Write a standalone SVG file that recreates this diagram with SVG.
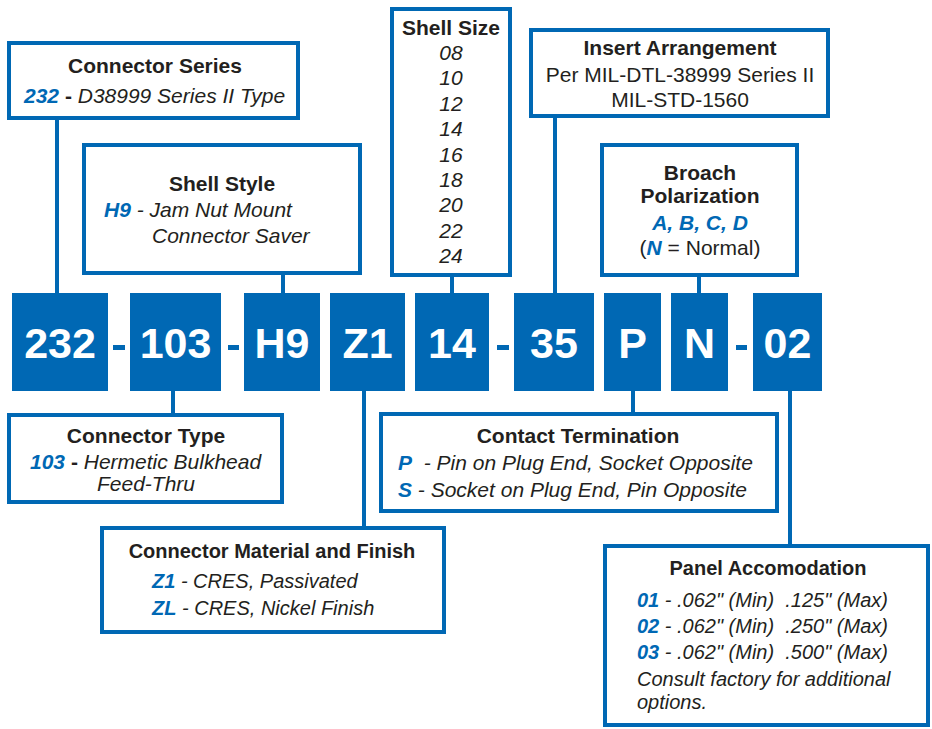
<svg xmlns="http://www.w3.org/2000/svg" width="932" height="729" viewBox="0 0 932 729">
<style>
.box{fill:#fff;stroke:#0068b4;stroke-width:4}
.code{fill:#0068b4}
.dash{fill:#0068b4}
.ct{font-family:"Liberation Sans",Arial,sans-serif;font-weight:bold;font-size:43px;fill:#fff;text-anchor:middle}
.t{font-family:"Liberation Sans",Arial,sans-serif;font-size:21px;fill:#231f20}
.s{font-size:20px}
.h{font-weight:bold;text-anchor:middle}
.i{font-style:italic}
.b{fill:#0068b4;font-weight:bold;font-style:italic}
.k{font-weight:bold}
.c{text-anchor:middle}
#connectors line{stroke:#0068b4;stroke-width:4}
</style>
<rect width="932" height="729" fill="#fff"/>
<g id="connectors">
<line x1="57" y1="118" x2="57" y2="294"/>
<line x1="283" y1="275" x2="283" y2="294"/>
<line x1="452" y1="275" x2="452" y2="294"/>
<line x1="555" y1="116" x2="555" y2="294"/>
<line x1="699" y1="275" x2="699" y2="294"/>
<line x1="173" y1="390" x2="173" y2="415"/>
<line x1="364" y1="390" x2="364" y2="528"/>
<line x1="633" y1="390" x2="633" y2="414"/>
<line x1="790" y1="390" x2="790" y2="546"/>
</g>
<g id="codes">
<g id="code-232"><rect class="code" x="12" y="293" width="96" height="98"/><text class="ct" x="60" y="358">232</text></g>
<rect class="dash" x="113" y="345" width="12" height="5"/>
<g id="code-103"><rect class="code" x="130" y="293" width="91" height="98"/><text class="ct" x="175.5" y="358">103</text></g>
<rect class="dash" x="228" y="345" width="11" height="5"/>
<g id="code-H9"><rect class="code" x="244" y="293" width="76" height="98"/><text class="ct" x="282" y="358">H9</text></g>
<g id="code-Z1"><rect class="code" x="330" y="293" width="75" height="98"/><text class="ct" x="367.5" y="358">Z1</text></g>
<g id="code-14"><rect class="code" x="415" y="293" width="74" height="98"/><text class="ct" x="452" y="358">14</text></g>
<rect class="dash" x="497" y="345" width="12" height="5"/>
<g id="code-35"><rect class="code" x="514" y="293" width="80" height="98"/><text class="ct" x="554" y="358">35</text></g>
<g id="code-P"><rect class="code" x="604" y="293" width="57" height="98"/><text class="ct" x="632.5" y="358">P</text></g>
<g id="code-N"><rect class="code" x="671" y="293" width="57" height="98"/><text class="ct" x="699.5" y="358">N</text></g>
<rect class="dash" x="736" y="345" width="11" height="5"/>
<g id="code-02"><rect class="code" x="753" y="293" width="69" height="98"/><text class="ct" x="787.5" y="358">02</text></g>
</g>
<g id="connector-series">
<rect class="box" x="9" y="43" width="289" height="75"/>
<text class="t h" x="155" y="73">Connector Series</text>
<text class="t" x="24" y="103"><tspan class="b">232</tspan><tspan class="k"> - </tspan><tspan class="i">D38999 Series II Type</tspan></text>
</g>
<g id="shell-style">
<rect class="box" x="84" y="145" width="276" height="128"/>
<text class="t h" x="222" y="191">Shell Style</text>
<text class="t" x="104" y="217"><tspan class="b">H9</tspan><tspan class="i"> - Jam Nut Mount</tspan></text>
<text class="t i" x="152" y="243">Connector Saver</text>
</g>
<g id="shell-size">
<rect class="box" x="392" y="9" width="118" height="266"/>
<text class="t h" x="451" y="35">Shell Size</text>
<text class="t i c" x="451" y="60">08</text>
<text class="t i c" x="451" y="85.4">10</text>
<text class="t i c" x="451" y="110.8">12</text>
<text class="t i c" x="451" y="136.2">14</text>
<text class="t i c" x="451" y="161.6">16</text>
<text class="t i c" x="451" y="187">18</text>
<text class="t i c" x="451" y="212.4">20</text>
<text class="t i c" x="451" y="237.8">22</text>
<text class="t i c" x="451" y="263.2">24</text>
</g>
<g id="insert-arrangement">
<rect class="box" x="531" y="30" width="297" height="86"/>
<text class="t h" x="680" y="55">Insert Arrangement</text>
<text class="t c" x="680" y="82">Per MIL-DTL-38999 Series II</text>
<text class="t c" x="680" y="107">MIL-STD-1560</text>
</g>
<g id="broach-polarization">
<rect class="box" x="602" y="145" width="195" height="130"/>
<text class="t h" x="700" y="180">Broach</text>
<text class="t h" x="700" y="203">Polarization</text>
<text class="t c" x="700" y="230"><tspan class="b">A, B, C, D</tspan></text>
<text class="t c" x="700" y="255">(<tspan class="b">N</tspan> = Normal)</text>
</g>
<g id="connector-type">
<rect class="box" x="9" y="415" width="273" height="87"/>
<text class="t h" x="146" y="443">Connector Type</text>
<text class="t" x="30" y="469" font-size="20.5"><tspan class="b">103</tspan><tspan class="k"> - </tspan><tspan class="i">Hermetic Bulkhead</tspan></text>
<text class="t i c" x="146" y="491" font-size="20.5">Feed-Thru</text>
</g>
<g id="contact-termination">
<rect class="box" x="381" y="414" width="396" height="97"/>
<text class="t h" x="578" y="443">Contact Termination</text>
<text class="t" x="398" y="470" xml:space="preserve"><tspan class="b">P</tspan><tspan class="i">  - Pin on Plug End, Socket Opposite</tspan></text>
<text class="t" x="398" y="497"><tspan class="b">S</tspan><tspan class="i"> - Socket on Plug End, Pin Opposite</tspan></text>
</g>
<g id="material-finish">
<rect class="box" x="102" y="528" width="342" height="104"/>
<text class="t s h" x="272" y="558">Connector Material and Finish</text>
<text class="t s" x="152" y="588"><tspan class="b">Z1</tspan><tspan class="i"> - CRES, Passivated</tspan></text>
<text class="t s" x="152" y="615"><tspan class="b">ZL</tspan><tspan class="i"> - CRES, Nickel Finish</tspan></text>
</g>
<g id="panel-accomodation">
<rect class="box" x="605" y="546" width="323" height="179"/>
<text class="t s h" x="768" y="575">Panel Accomodation</text>
<text class="t s" x="637" y="607" xml:space="preserve"><tspan class="b">01</tspan><tspan class="i"> - .062" (Min)  .125" (Max)</tspan></text>
<text class="t s" x="637" y="633" xml:space="preserve"><tspan class="b">02</tspan><tspan class="i"> - .062" (Min)  .250" (Max)</tspan></text>
<text class="t s" x="637" y="659" xml:space="preserve"><tspan class="b">03</tspan><tspan class="i"> - .062" (Min)  .500" (Max)</tspan></text>
<text class="t s i" x="637" y="686">Consult factory for additional</text>
<text class="t s i" x="637" y="709">options.</text>
</g>
</svg>
